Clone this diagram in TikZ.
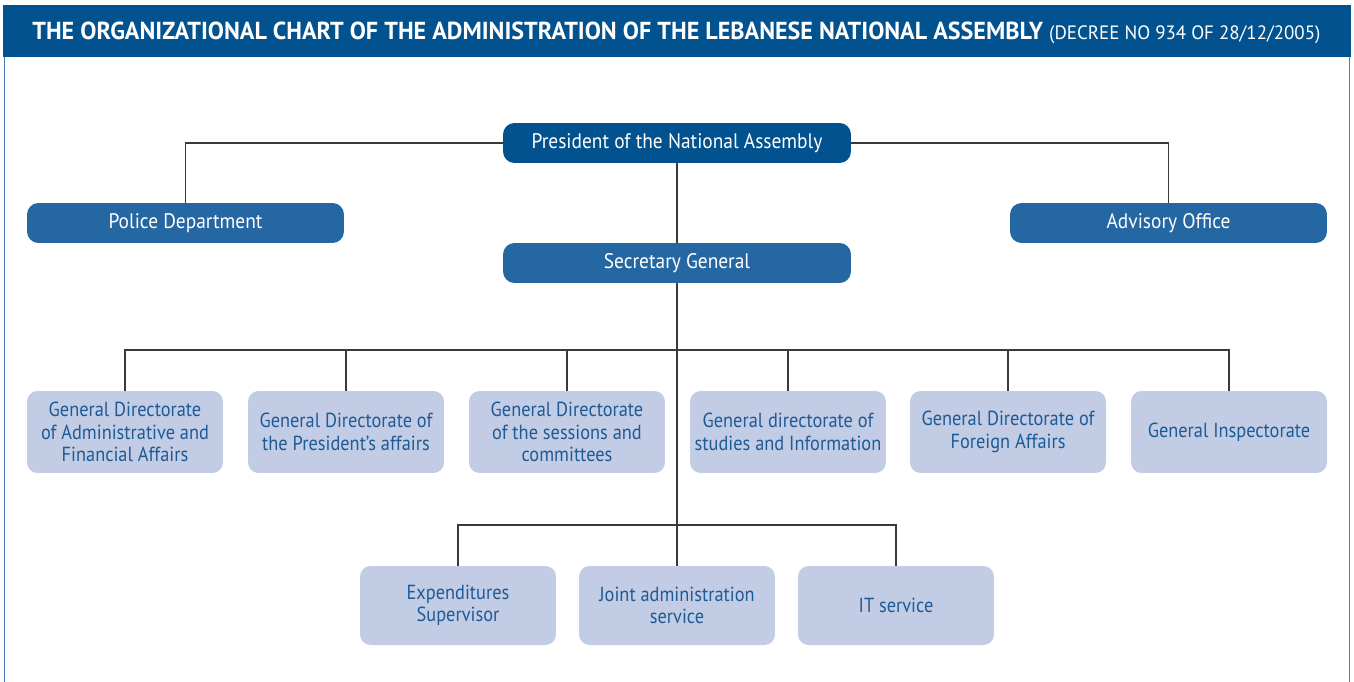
\documentclass[tikz,border=0pt]{standalone}
\usepackage{fontspec}
\setmainfont{PT Sans}[FakeStretch=0.9]
\newfontfamily\titlefont{PT Sans}[FakeStretch=0.98]
\newfontfamily\headfont{PT Sans}[FakeStretch=0.92]
\usetikzlibrary{positioning}
\definecolor{headblue}{HTML}{02528F}
\definecolor{midblue}{HTML}{2567A3}
\definecolor{paleblue}{HTML}{C2CCE4}
\definecolor{inkblue}{HTML}{1D5A96}
\definecolor{frameblue}{HTML}{4A7FC0}
\definecolor{wire}{HTML}{3A3A3A}
\tikzset{
  topbox/.style={rectangle, rounded corners=6.5pt, fill=headblue, text=white,
    minimum width=6.96cm, minimum height=0.8cm, inner sep=0pt,
    font=\headfont\fontsize{12}{14}\selectfont},
  subbox/.style={topbox, fill=midblue},
  unitbox/.style={rectangle, rounded corners=6pt, fill=paleblue, text=inkblue,
    minimum width=3.92cm, minimum height=1.64cm, inner sep=0pt, align=center,
    font=\fontsize{11.6}{12.8}\selectfont},
  wireline/.style={draw=wire, line width=0.75pt}
}
\begin{document}
\begin{tikzpicture}[x=0.02cm, y=-0.02cm]
            \useasboundingbox (0,0) rectangle (1354,682);

            % frame
            \fill[headblue] (3,5) rectangle (1351,57);
            \draw[frameblue, line width=1.1pt] (4.5,57)--(4.5,682);
            \draw[frameblue, line width=1.1pt] (1349.5,57)--(1349.5,682);
            \node[anchor=west, text=white, inner sep=0pt] (title) at (32,33)
              {\titlefont\fontsize{14}{16}\selectfont\bfseries THE ORGANIZATIONAL CHART OF THE ADMINISTRATION OF THE LEBANESE NATIONAL ASSEMBLY\ \mdseries\fontsize{11}{16}\selectfont(DECREE NO 934 OF 28/12/2005)};

            \node[topbox] (pres) at (677,143) {President of the National Assembly};
            \node[subbox, minimum width=6.34cm] (police) at (185.5,223) {Police Department};
            \node[subbox, minimum width=6.34cm] (advisory) at (1168.5,223) {Advisory Office};
            \node[subbox] (secgen) at (677,263) {Secretary General};

            \node[unitbox] (gdadmin) at (125,432) {General Directorate\\of Administrative and\\Financial Affairs};
            \node[unitbox] (gdpres) at (346,432) {General Directorate of\\the President's affairs};
            \node[unitbox] (gdsess) at (567,432) {General Directorate\\of the sessions and\\committees};
            \node[unitbox] (gdstud) at (788,432) {General directorate of\\studies and Information};
            \node[unitbox] (gdforeign) at (1008,432) {General Directorate of\\Foreign Affairs};
            \node[unitbox] (gdinsp) at (1229,432) {General Inspectorate};

            \node[unitbox, minimum height=1.58cm] (expend) at (458,605.5) {Expenditures\\Supervisor};
            \node[unitbox, minimum height=1.58cm] (joint) at (677,605.5) {Joint administration\\service};
            \node[unitbox, minimum height=1.58cm] (itserv) at (896,605.5) {IT service};

            \coordinate (busA) at (677,350);
            \coordinate (busB) at (677,525);

            \draw[wireline] (pres.west) -| (police.north);
            \draw[wireline] (pres.east) -| (advisory.north);
            \draw[wireline] (pres) -- (secgen);
            \draw[wireline] (secgen) -- (joint);
            \draw[wireline] (gdadmin.north) |- (busA) -| (gdinsp.north);
            \draw[wireline] (gdpres.north) -- (gdpres.north |- busA);
            \draw[wireline] (gdsess.north) -- (gdsess.north |- busA);
            \draw[wireline] (gdstud.north) -- (gdstud.north |- busA);
            \draw[wireline] (gdforeign.north) -- (gdforeign.north |- busA);
            \draw[wireline] (expend.north) |- (busB) -| (itserv.north);
\end{tikzpicture}
\end{document}
